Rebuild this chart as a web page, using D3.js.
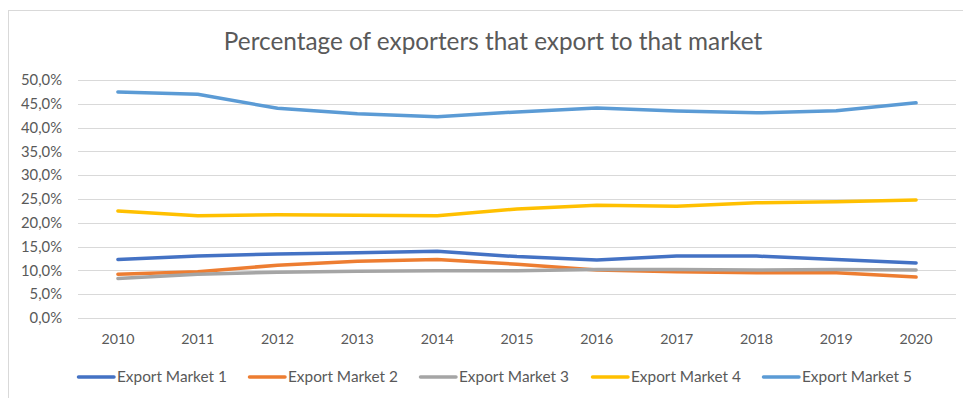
<!DOCTYPE html>
<html>
<head>
<meta charset="utf-8">
<script src="https://cdn.jsdelivr.net/npm/d3@7"></script>
<style>
  html, body { margin: 0; padding: 0; background: #fff; }
  svg { display: block; }
</style>
</head>
<body>
<svg id="chart" width="963" height="398"></svg>
<script>
// Years on the x axis
const years = ["2010","2011","2012","2013","2014","2015","2016","2017","2018","2019","2020"];

// Share of exporters (%) per market and year
const market1 = [12.3, 13.0, 13.45, 13.7, 14.0, 12.9, 12.2, 13.0, 13.0, 12.3, 11.55];
const market2 = [9.2, 9.7, 11.1, 11.9, 12.3, 11.3, 10.1, 9.7, 9.5, 9.5, 8.6];
const market3 = [8.3, 9.2, 9.6, 9.8, 9.95, 9.95, 10.2, 10.2, 10.1, 10.2, 10.1];
const market4 = [22.5, 21.5, 21.7, 21.6, 21.5, 22.9, 23.7, 23.5, 24.2, 24.4, 24.8];
const market5 = [47.5, 47.0, 44.05, 42.9, 42.3, 43.3, 44.1, 43.5, 43.1, 43.55, 45.2];

const seriesNames = ["Export Market 1","Export Market 2","Export Market 3","Export Market 4","Export Market 5"];
const seriesColors = ["#4472C4","#ED7D31","#A5A5A5","#FFC000","#5B9BD5"];
const yTicks = [0, 5, 10, 15, 20, 25, 30, 35, 40, 45, 50];

const titleText = "Percentage of exporters that export to that market";

const series = [market1, market2, market3, market4, market5].map((vals, i) => ({
  name: seriesNames[i], color: seriesColors[i],
  points: vals.map((v, j) => ({ year: years[j], value: v }))
}));

const FONT = "Lato, 'Open Sans', sans-serif";
const TEXT = "#595959";

// Pick a font size so a sample string spans a given width
const ctx = document.createElement("canvas").getContext("2d");
function fitSize(sample, width) {
  ctx.font = "100px " + FONT;
  return 100 * width / ctx.measureText(sample).width;
}

const svg = d3.select("#chart");

// chart-area frame
svg.append("rect")
  .attr("x", 8.5).attr("y", 10.5)
  .attr("width", 1000).attr("height", 500)
  .attr("fill", "#fff").attr("stroke", "#D9D9D9").attr("stroke-width", 1);

const plot = { left: 78, right: 956, top: 80, bottom: 318 };

const x = d3.scaleBand().domain(years).range([plot.left, plot.right]).padding(0);
const xc = d => x(d) + x.bandwidth() / 2;
const y = d3.scaleLinear().domain([0, 50]).range([plot.bottom, plot.top]);

// gridlines
svg.append("g")
  .selectAll("line")
  .data(yTicks)
  .join("line")
  .attr("x1", plot.left).attr("x2", plot.right)
  .attr("y1", d => Math.round(y(d)) + 0.5).attr("y2", d => Math.round(y(d)) + 0.5)
  .attr("stroke", "#D9D9D9").attr("stroke-width", 1);

// y axis labels
const fmt = d => d.toFixed(1).replace(".", ",") + "%";
const yAxis = d3.axisLeft(y).tickValues(yTicks).tickFormat(fmt).tickSize(0).tickPadding(16);
const yg = svg.append("g").attr("transform", `translate(${plot.left},0)`).call(yAxis);
yg.select(".domain").remove();
yg.selectAll("text")
  .attr("fill", TEXT)
  .style("font-family", FONT)
  .style("font-size", fitSize("50,0%", 41) + "px");

// x axis labels
const xAxis = d3.axisBottom(x).tickSize(0).tickPadding(16);
const xg = svg.append("g").attr("transform", `translate(0,${plot.bottom})`).call(xAxis);
xg.select(".domain").remove();
xg.selectAll("text")
  .attr("fill", TEXT)
  .style("font-family", FONT)
  .style("font-size", fitSize("2010", 33) + "px");

// series lines
const line = d3.line().x(d => xc(d.year)).y(d => y(d.value)).curve(d3.curveLinear);
svg.append("g")
  .selectAll("path")
  .data(series)
  .join("path")
  .attr("d", d => line(d.points))
  .attr("fill", "none")
  .attr("stroke", d => d.color)
  .attr("stroke-width", 3.5)
  .attr("stroke-linecap", "round")
  .attr("stroke-linejoin", "round");

// title
svg.append("text")
  .attr("x", 493).attr("y", 50)
  .attr("text-anchor", "middle")
  .attr("fill", TEXT)
  .style("font-family", FONT)
  .style("font-size", fitSize(titleText, 539) + "px")
  .text(titleText);

// legend
const legendX = [77, 248, 419, 591, 762];
const legendSize = fitSize("Export Market 1", 110);
const lg = svg.append("g").selectAll("g")
  .data(series)
  .join("g")
  .attr("transform", (d, i) => `translate(${legendX[i]},377)`);
lg.append("line")
  .attr("x1", 1.5).attr("x2", 37)
  .attr("y1", 0).attr("y2", 0)
  .attr("stroke", d => d.color).attr("stroke-width", 3.5).attr("stroke-linecap", "round");
lg.append("text")
  .attr("x", 40).attr("y", 0)
  .attr("dy", "0.35em")
  .attr("fill", TEXT)
  .style("font-family", FONT)
  .style("font-size", legendSize + "px")
  .text(d => d.name);
</script>
</body>
</html>
